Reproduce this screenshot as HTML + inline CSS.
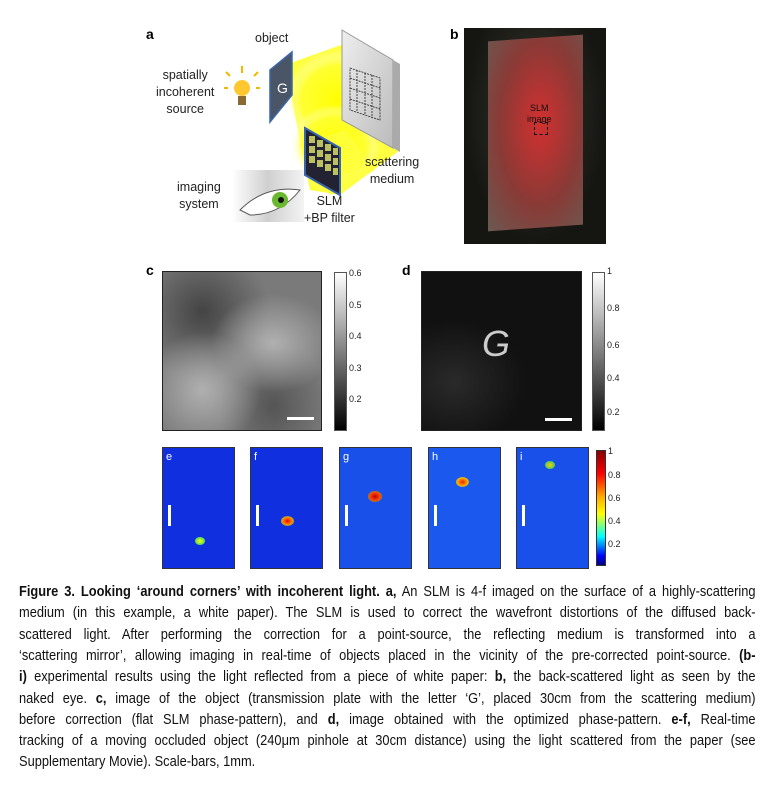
<!DOCTYPE html>
<html><head><meta charset="utf-8"><style>
body{margin:0;width:775px;height:798px;background:#fff;position:relative;overflow:hidden;font-family:"Liberation Sans",sans-serif}
.a{position:absolute}
.lbl{position:absolute;font-weight:bold;font-size:14px}
.t{position:absolute;font-size:12.5px;color:#222;text-align:center;line-height:17px}
.cb{position:absolute;font-size:9px;color:#222}
.cap{position:absolute;left:19px;width:837px;transform:scaleX(0.88);transform-origin:left top;font-size:14.6px;color:#111;text-align:justify;text-align-last:justify;white-space:nowrap;height:21px;line-height:21px}
.cap.l{text-align-last:left}
.p{position:absolute;border:1px solid #333;background:#1030e0;overflow:hidden}
.sb{position:absolute;width:3px;height:21px;background:#fff}
</style></head><body>
<div class="lbl" style="left:146px;top:26px">a</div>
<div class="lbl" style="left:450px;top:26px">b</div>
<div class="lbl" style="left:146px;top:262px">c</div>
<div class="lbl" style="left:402px;top:262px">d</div>

<!-- panel a -->
<svg class="a" style="left:140px;top:20px" width="320" height="230">
<defs>
<radialGradient id="y" cx="0.5" cy="0.5" r="0.5"><stop offset="0" stop-color="#ffff00"/><stop offset="0.7" stop-color="#ffff30" stop-opacity="0.9"/><stop offset="1" stop-color="#fff" stop-opacity="0"/></radialGradient>
<linearGradient id="m" x1="0" y1="0" x2="1" y2="1"><stop offset="0" stop-color="#eee"/><stop offset="1" stop-color="#bbb"/></linearGradient>
<linearGradient id="e" x1="0" y1="0" x2="1" y2="0"><stop offset="0" stop-color="#fff"/><stop offset="0.5" stop-color="#bbb"/><stop offset="1" stop-color="#eee"/></linearGradient>
</defs>
<polygon points="145,45 215,20 260,130 200,175 170,170" fill="#ffff20" opacity="0.85"/>
<ellipse cx="200" cy="80" rx="55" ry="50" fill="url(#y)"/>
<ellipse cx="195" cy="125" rx="45" ry="40" fill="url(#y)"/>
<polygon points="160,125 205,110 235,150 190,175" fill="#ffff40" opacity="0.8"/>
<polygon points="202,10 253,40 253,128 202,100" fill="url(#m)" stroke="#999"/>
<polygon points="253,40 260,44 260,132 253,128" fill="#aaa"/>
<g stroke="#222" stroke-dasharray="2,1" stroke-width="0.8" fill="none">
<polygon points="210,48 240,58 240,100 210,90"/>
<line x1="217" y1="50" x2="217" y2="92"/><line x1="225" y1="53" x2="225" y2="95"/><line x1="232" y1="55" x2="232" y2="98"/>
<line x1="210" y1="58" x2="240" y2="68"/><line x1="210" y1="68" x2="240" y2="78"/><line x1="210" y1="79" x2="240" y2="89"/>
</g>
<polygon points="130,50 152,32 152,75 130,102" fill="#4a5568" stroke="#3a66aa" stroke-width="1.5"/>
<text x="137" y="73" fill="#fff" font-size="14" font-family="Liberation Sans">G</text>
<polygon points="165,108 200,128 200,175 165,155" fill="#223" stroke="#3a66aa" stroke-width="2"/>
<g fill="#bcc060"><rect x="169" y="116" width="6" height="7"/><rect x="177" y="120" width="6" height="7"/><rect x="185" y="124" width="6" height="7"/><rect x="193" y="128" width="5" height="7"/>
<rect x="169" y="126" width="6" height="7"/><rect x="177" y="130" width="6" height="7"/><rect x="185" y="134" width="6" height="7"/><rect x="193" y="138" width="5" height="7"/>
<rect x="169" y="136" width="6" height="7"/><rect x="177" y="140" width="6" height="7"/><rect x="185" y="144" width="6" height="7"/><rect x="193" y="148" width="5" height="7"/></g>
<circle cx="102" cy="68" r="8" fill="#ffc830"/><rect x="98" y="76" width="8" height="9" fill="#8a6a30"/>
<g stroke="#f5b800" stroke-width="2"><line x1="102" y1="46" x2="102" y2="53"/><line x1="88" y1="68" x2="84" y2="68"/><line x1="116" y1="68" x2="120" y2="68"/><line x1="90" y1="56" x2="86" y2="52"/><line x1="114" y1="56" x2="118" y2="52"/></g>
<rect x="92" y="150" width="72" height="52" fill="url(#e)" opacity="0.7"/>
<path d="M100,190 Q125,165 160,170 Q140,195 110,195Z" fill="#fff" stroke="#555"/>
<circle cx="140" cy="180" r="8" fill="#6ab830"/><circle cx="141" cy="180" r="3" fill="#111"/>
</svg>
<div class="t" style="left:255px;top:30px">object</div>
<div class="t" style="left:156px;top:67px">spatially<br>incoherent<br>source</div>
<div class="t" style="left:365px;top:154px">scattering<br>medium</div>
<div class="t" style="left:177px;top:179px">imaging<br>system</div>
<div class="t" style="left:304px;top:193px">SLM<br>+BP filter</div>

<!-- panel b -->
<div class="a" style="left:464px;top:28px;width:142px;height:216px;background:radial-gradient(ellipse at 50% 40%,#3a3a30,#151512 70%)"></div>
<div class="a" style="left:488px;top:38px;width:95px;height:190px;background:radial-gradient(ellipse at 55% 45%,#d23030,#8a3a36 55%,#6a5a52);transform:skewY(-4deg)"></div>
<div class="a" style="left:527px;top:103px;font-size:9px;color:#111;text-align:center;line-height:11px">SLM<br>image</div>
<div class="a" style="left:534px;top:122px;width:12px;height:11px;border:1px dashed #111"></div>

<!-- panel c -->
<div class="a" style="left:162px;top:271px;width:160px;height:160px;border:1px solid #222;box-sizing:border-box;background:radial-gradient(ellipse at 70% 45%,#b0b0b0,transparent 40%),radial-gradient(ellipse at 25% 75%,#b0b0b0,transparent 35%),radial-gradient(ellipse at 25% 25%,#444,transparent 40%),radial-gradient(ellipse at 70% 85%,#555,transparent 35%),#7a7a7a"></div>
<div class="a" style="left:287px;top:417px;width:27px;height:3px;background:#fff"></div>
<div class="a" style="left:334px;top:272px;width:13px;height:159px;border:1px solid #555;box-sizing:border-box;background:linear-gradient(#fff,#000)"></div>
<div class="cb" style="left:349px;top:268px">0.6</div><div class="cb" style="left:349px;top:300px">0.5</div><div class="cb" style="left:349px;top:331px">0.4</div><div class="cb" style="left:349px;top:363px">0.3</div><div class="cb" style="left:349px;top:394px">0.2</div>

<!-- panel d -->
<div class="a" style="left:421px;top:271px;width:161px;height:160px;border:1px solid #222;box-sizing:border-box;background:radial-gradient(ellipse at 20% 70%,#2a2a2a,transparent 40%),#111"></div>
<div class="a" style="left:482px;top:323px;font-size:36px;color:#ccc;font-family:'Liberation Sans',sans-serif;font-style:italic">G</div>
<div class="a" style="left:545px;top:418px;width:27px;height:3px;background:#fff"></div>
<div class="a" style="left:592px;top:272px;width:13px;height:159px;border:1px solid #555;box-sizing:border-box;background:linear-gradient(#fff,#000)"></div>
<div class="cb" style="left:607px;top:266px">1</div><div class="cb" style="left:607px;top:303px">0.8</div><div class="cb" style="left:607px;top:340px">0.6</div><div class="cb" style="left:607px;top:373px">0.4</div><div class="cb" style="left:607px;top:407px">0.2</div>

<!-- e-i -->
<div class="p" style="left:162px;top:447px;width:71px;height:120px"><div class="a" style="left:3px;top:3px;color:#fff;font-size:11px">e</div><div class="sb" style="left:5px;top:57px"></div><div class="a" style="left:32px;top:89px;width:10px;height:8px;border-radius:50%;background:radial-gradient(#ff0,#0c8)"></div></div>
<div class="p" style="left:250px;top:447px;width:71px;height:120px"><div class="a" style="left:30px;top:68px;width:13px;height:10px;border-radius:50%;background:radial-gradient(#e00,#f80 50%,#0c8)"></div><div class="a" style="left:3px;top:3px;color:#fff;font-size:11px">f</div><div class="sb" style="left:5px;top:57px"></div></div>
<div class="p" style="left:339px;top:447px;width:71px;height:120px;background:#1a50ea"><div class="a" style="left:3px;top:3px;color:#fff;font-size:11px">g</div><div class="sb" style="left:5px;top:57px"></div><div class="a" style="left:28px;top:43px;width:14px;height:11px;border-radius:50%;background:radial-gradient(#b00,#f40 50%,#0c8)"></div></div>
<div class="p" style="left:428px;top:447px;width:71px;height:120px;background:#1a58ee"><div class="a" style="left:3px;top:3px;color:#fff;font-size:11px">h</div><div class="sb" style="left:5px;top:57px"></div><div class="a" style="left:27px;top:29px;width:13px;height:10px;border-radius:50%;background:radial-gradient(#e20,#fa0 55%,#0c8)"></div></div>
<div class="p" style="left:516px;top:447px;width:71px;height:120px;background:#1a50ea"><div class="a" style="left:3px;top:3px;color:#fff;font-size:11px">i</div><div class="sb" style="left:5px;top:57px"></div><div class="a" style="left:28px;top:13px;width:10px;height:8px;border-radius:50%;background:radial-gradient(#fc0,#0c8)"></div></div>
<div class="a" style="left:596px;top:450px;width:10px;height:116px;border:1px solid #333;box-sizing:border-box;background:linear-gradient(#800,#f00 20%,#fa0 40%,#ff0 55%,#0ff 75%,#00f 92%,#008)"></div>
<div class="cb" style="left:608px;top:446px">1</div><div class="cb" style="left:608px;top:470px">0.8</div><div class="cb" style="left:608px;top:493px">0.6</div><div class="cb" style="left:608px;top:516px">0.4</div><div class="cb" style="left:608px;top:539px">0.2</div>

<!-- caption -->
<div class="cap" style="top:582px"><b>Figure 3. Looking ‘around corners’ with incoherent light. a,</b> An SLM is 4-f imaged on the surface of a highly-scattering</div>
<div class="cap" style="top:603px">medium (in this example, a white paper). The SLM is used to correct the wavefront distortions of the diffused back-</div>
<div class="cap" style="top:625px">scattered light. After performing the correction for a point-source, the reflecting medium is transformed into a</div>
<div class="cap" style="top:646px">‘scattering mirror’, allowing imaging in real-time of objects placed in the vicinity of the pre-corrected point-source. <b>(b-</b></div>
<div class="cap" style="top:667px"><b>i)</b> experimental results using the light reflected from a piece of white paper: <b>b,</b> the back-scattered light as seen by the</div>
<div class="cap" style="top:689px">naked eye. <b>c,</b> image of the object (transmission plate with the letter ‘G’, placed 30cm from the scattering medium)</div>
<div class="cap" style="top:710px">before correction (flat SLM phase-pattern), and <b>d,</b> image obtained with the optimized phase-pattern. <b>e-f,</b> Real-time</div>
<div class="cap" style="top:731px">tracking of a moving occluded object (240μm pinhole at 30cm distance) using the light scattered from the paper (see</div>
<div class="cap l" style="top:752px">Supplementary Movie). Scale-bars, 1mm.</div>
</body></html>
